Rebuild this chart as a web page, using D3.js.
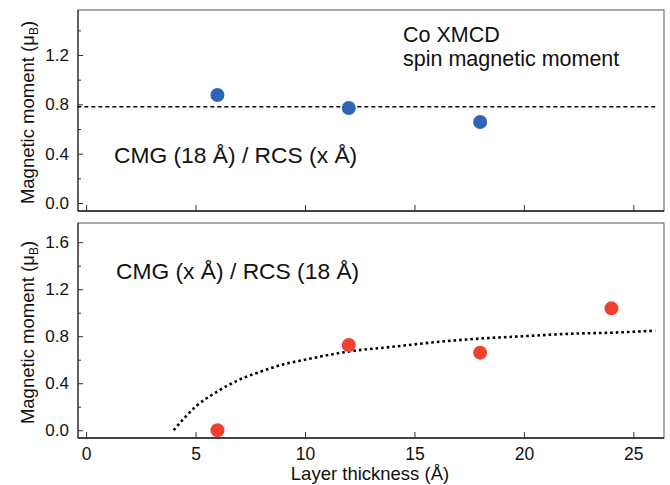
<!DOCTYPE html>
<html>
<head>
<meta charset="utf-8">
<script src="https://cdn.jsdelivr.net/npm/d3@7"></script>
<style>
  body { margin: 0; background: #fff; }
  text { font-family: "Liberation Sans", Arial, Helvetica, sans-serif; fill: #111; }
</style>
</head>
<body>
<div class="chart"></div>
<script>
const width = 670;
const height = 485;

// top panel: CMG (18 A) / RCS (x A)
const topThickness = [6, 12, 18];
const topMoment = [0.876, 0.77, 0.657];
const topFitX = [-0.4, 26];
const topFitY = [0.78, 0.78];

// bottom panel: CMG (x A) / RCS (18 A)
const botThickness = [6, 12, 18, 24];
const botMoment = [0.0, 0.725, 0.66, 1.037];
const botFitX = [4, 5, 6, 7, 8, 9, 10, 12, 14, 16, 18, 20, 22, 24, 26];
const botFitY = [0, 0.2, 0.33, 0.43, 0.5, 0.56, 0.6, 0.67, 0.71, 0.75, 0.78, 0.8, 0.82, 0.83, 0.847];

const xTicks = [0, 5, 10, 15, 20, 25];
const topYTicks = [0, 0.4, 0.8, 1.2];
const botYTicks = [0, 0.4, 0.8, 1.2, 1.6];
const yMinorTicks = [0.2, 0.6, 1.0, 1.4];

const left = 78, right = 664;

let svg = d3
  .select(".chart")
  .append("svg")
  .attr("width", width)
  .attr("height", height);

let xScale = d3.scaleLinear().domain([-0.37, 26.4]).range([left, right]);

var drawPanel = (cfg) => {
  let yScale = d3.scaleLinear().domain(cfg.yDomain).range([cfg.bottom, cfg.top]);
  let g = svg.append("g");

  // frame
  g.append("rect")
    .attr("x", left)
    .attr("y", cfg.top)
    .attr("width", right - left)
    .attr("height", cfg.bottom - cfg.top)
    .attr("fill", "none")
    .attr("stroke", "#555")
    .attr("stroke-width", 1);
  g.append("line")
    .attr("x1", left).attr("x2", right)
    .attr("y1", cfg.bottom).attr("y2", cfg.bottom)
    .attr("stroke", "#222").attr("stroke-width", 1.5);
  g.append("line")
    .attr("x1", left).attr("x2", left)
    .attr("y1", cfg.top).attr("y2", cfg.bottom)
    .attr("stroke", "#333").attr("stroke-width", 1.2);

  // y axis, ticks pointing inward
  let yAxis = d3.axisLeft(yScale)
    .tickValues(cfg.yTicks)
    .tickSizeInner(-5)
    .tickSizeOuter(0)
    .tickPadding(9)
    .tickFormat(d3.format(".1f"));
  let ya = g.append("g")
    .attr("transform", "translate(" + left + ",0)")
    .call(yAxis);
  ya.select(".domain").remove();
  ya.selectAll("line").attr("stroke", "#333");
  ya.selectAll("text").attr("font-size", 17).attr("fill", "#111");

  let yMinor = d3.axisLeft(yScale)
    .tickValues(yMinorTicks)
    .tickSizeInner(-3)
    .tickSizeOuter(0)
    .tickFormat("");
  let ym = g.append("g")
    .attr("transform", "translate(" + left + ",0)")
    .call(yMinor);
  ym.select(".domain").remove();
  ym.selectAll("line").attr("stroke", "#333");

  // x axis, ticks pointing inward
  let xAxis = d3.axisBottom(xScale)
    .tickValues(xTicks)
    .tickSizeInner(-6)
    .tickSizeOuter(0)
    .tickPadding(10)
    .tickFormat(cfg.xLabels ? d3.format("d") : "");
  let xa = g.append("g")
    .attr("transform", "translate(0," + cfg.bottom + ")")
    .call(xAxis);
  xa.select(".domain").remove();
  xa.selectAll("line").attr("stroke", "#333");
  xa.selectAll("text").attr("font-size", 17.5).attr("fill", "#111");

  // fit line
  let fit = cfg.fitX.map((x, i) => [x, cfg.fitY[i]]);
  g.append("path")
    .datum(fit)
    .attr("d", d3.line()
      .x((d) => xScale(d[0]))
      .y((d) => yScale(d[1]))
      .curve(d3.curveMonotoneX))
    .attr("fill", "none")
    .attr("stroke", "#000")
    .attr("stroke-width", cfg.fitWidth)
    .attr("stroke-dasharray", cfg.fitDash);

  // points
  let pts = cfg.xs.map((x, i) => ({ x: x, y: cfg.ys[i] }));
  g.append("g")
    .selectAll("circle")
    .data(pts)
    .enter()
    .append("circle")
    .attr("cx", (d) => xScale(d.x))
    .attr("cy", (d) => yScale(d.y))
    .attr("r", 7)
    .attr("fill", cfg.color);

  // y title
  g.append("text")
    .text("Magnetic moment (")
    .attr("transform", "translate(34," + ((cfg.top + cfg.bottom) / 2 + 2) + ") rotate(-90)")
    .attr("text-anchor", "middle")
    .attr("font-size", 18.5)
    .call((t) => {
      t.append("tspan").text("μ");
      t.append("tspan").text("B").attr("font-size", 12).attr("dy", 4);
      t.append("tspan").text(")").attr("dy", -4);
    });
};

drawPanel({
  top: 10,
  bottom: 211,
  yDomain: [-0.065, 1.565],
  yTicks: topYTicks,
  xLabels: false,
  xs: topThickness,
  ys: topMoment,
  fitX: topFitX,
  fitY: topFitY,
  fitWidth: 1.6,
  fitDash: "4,3",
  color: "#2e66b6",
});

drawPanel({
  top: 223,
  bottom: 438,
  yDomain: [-0.066, 1.763],
  yTicks: botYTicks,
  xLabels: true,
  xs: botThickness,
  ys: botMoment,
  fitX: botFitX,
  fitY: botFitY,
  fitWidth: 2.6,
  fitDash: "2.6,3",
  color: "#ef4130",
});

// annotations
svg.append("text")
  .text("Co XMCD")
  .attr("x", 403)
  .attr("y", 42)
  .attr("font-size", 21.5);
svg.append("text")
  .text("spin magnetic moment")
  .attr("x", 403)
  .attr("y", 66)
  .attr("font-size", 21.5);

svg.append("text")
  .text("CMG (18 Å) / RCS (x Å)")
  .attr("x", 114)
  .attr("y", 163)
  .attr("font-size", 22.8);
svg.append("text")
  .text("CMG (x Å) / RCS (18 Å)")
  .attr("x", 116)
  .attr("y", 279)
  .attr("font-size", 22.8);

svg.append("text")
  .text("Layer thickness (Å)")
  .attr("x", 370)
  .attr("y", 480)
  .attr("text-anchor", "middle")
  .attr("font-size", 18.5);
</script>
</body>
</html>
